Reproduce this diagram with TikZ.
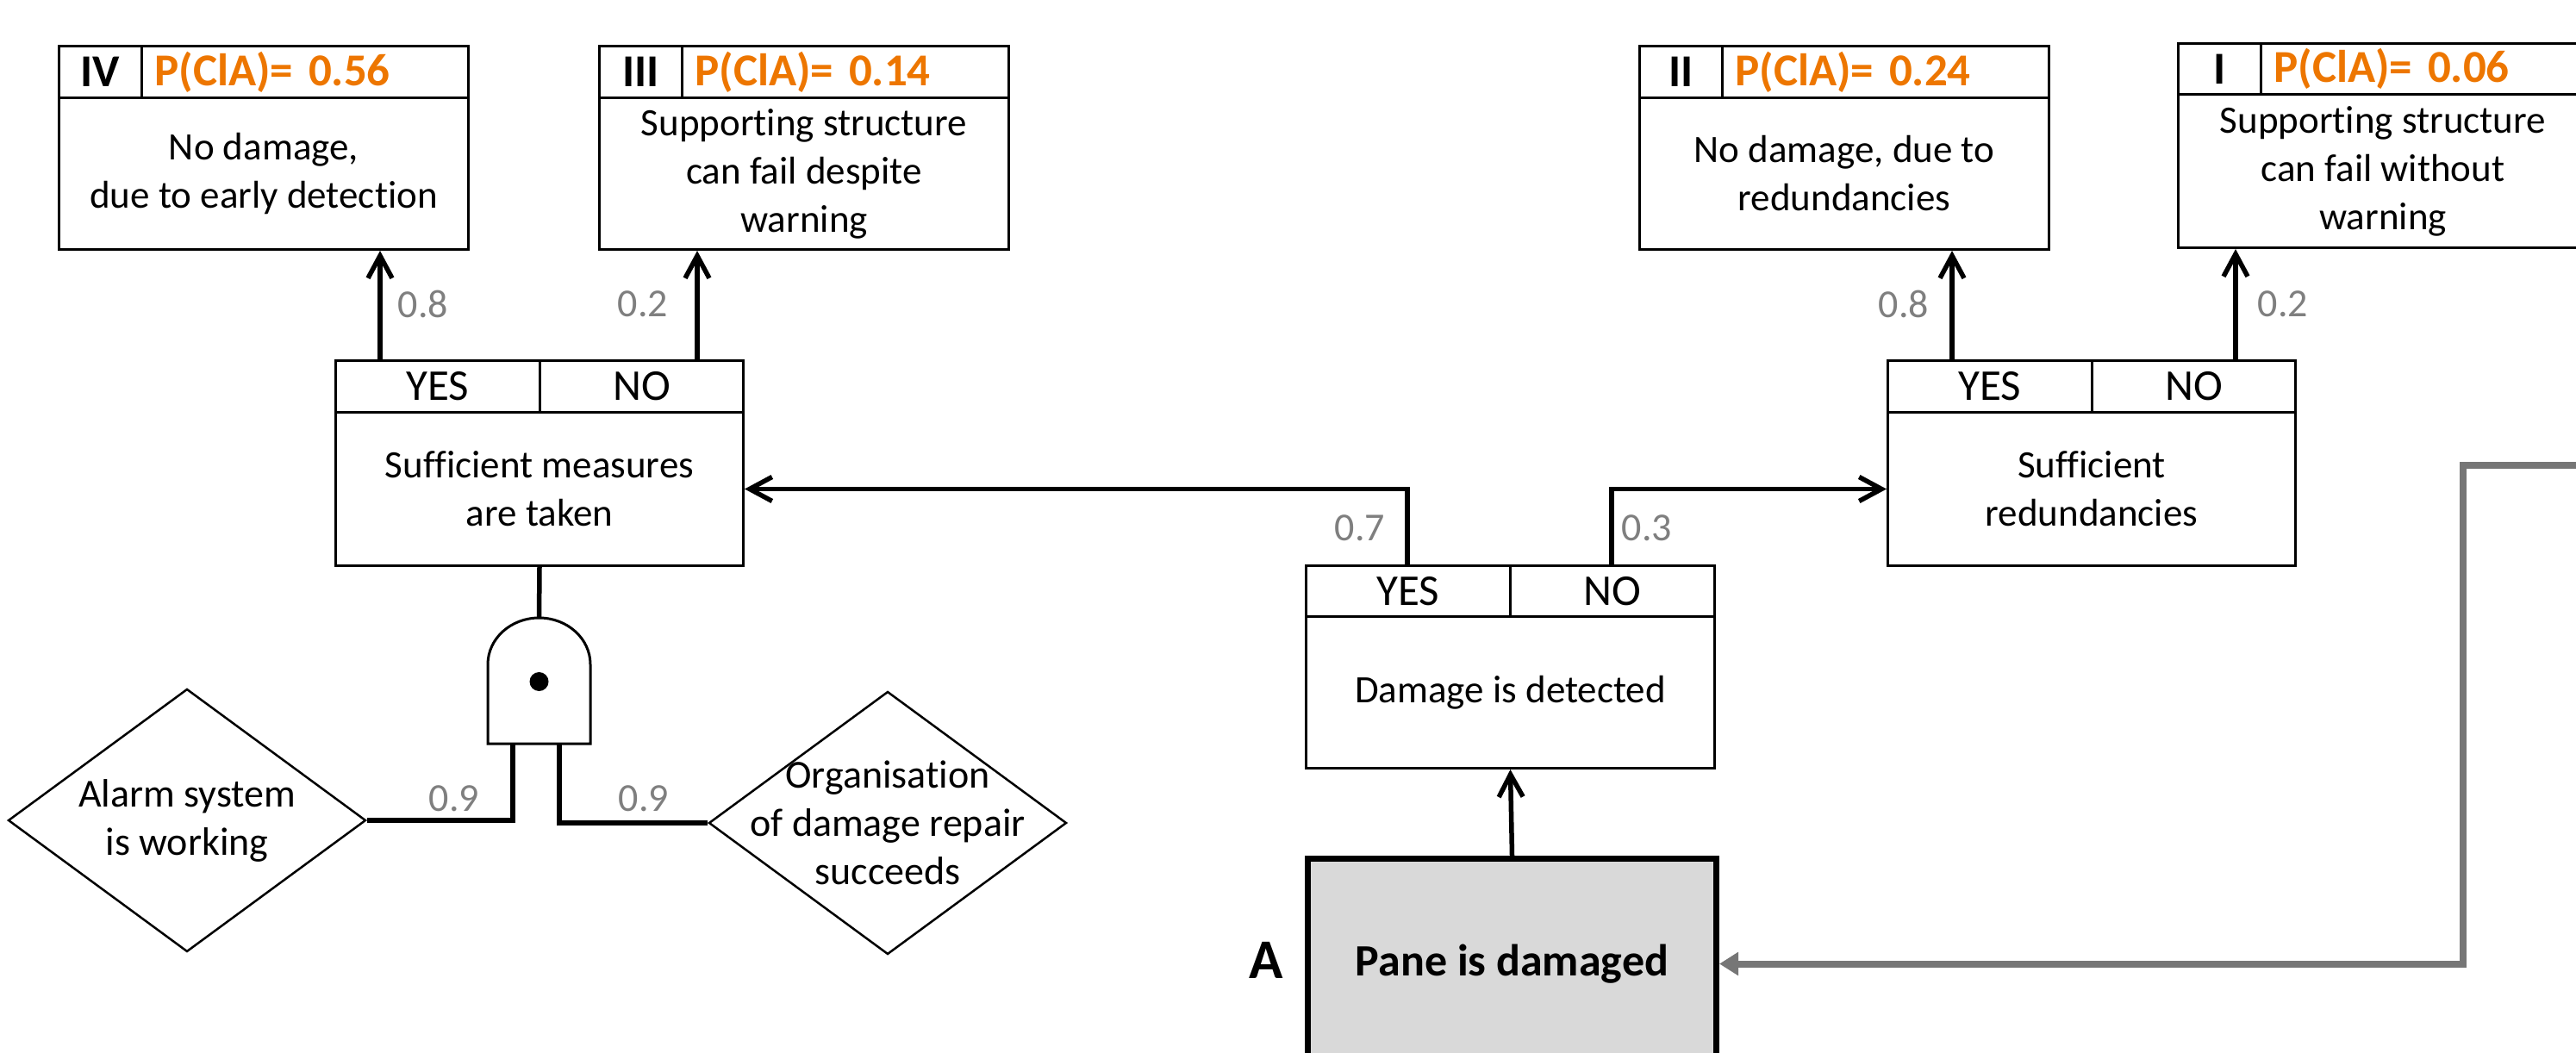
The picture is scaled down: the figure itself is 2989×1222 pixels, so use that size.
\documentclass[tikz,border=0pt]{standalone}
\usepackage{fontspec}
\setmainfont{Carlito}[Ligatures=NoCommon]
\usetikzlibrary{arrows.meta,shapes.geometric}
\definecolor{orangeP}{RGB}{237,118,0}
\definecolor{greyL}{RGB}{118,118,118}
\definecolor{greyT}{RGB}{127,127,127}
\definecolor{paneFill}{RGB}{217,217,217}
\newcommand\fbody{\fontsize{45}{56}\selectfont}
\newcommand\fhead{\fontsize{53}{58}\selectfont\bfseries}
\newcommand\fyn{\fontsize{51}{56}\selectfont}
\newcommand\fnum{\fontsize{46}{56}\selectfont}
\newcommand\fdia{\fontsize{46}{56}\selectfont}
\tikzset{
  cell/.style={draw, line width=3pt, inner sep=0pt, align=center, anchor=north west},
  numcell/.style={cell, minimum width=96, font=\fhead},
  probcell/.style={cell, text width=#1, align=left, inner xsep=15pt, text=orangeP, font=\fhead},
  yncell/.style={cell, font=\fyn},
  bodycell/.style={cell, font=\fbody},
  conn/.style={line width=5.5pt},
  arr/.style={conn, -{Straight Barb[length=26pt,width=28pt]}},
  prob/.style={text=greyT, font=\fnum, inner sep=0pt},
  dia/.style={draw, diamond, line width=2.5pt, inner sep=0pt, minimum width=415, minimum height=305},
  dialabel/.style={font=\fdia, align=center},
  gate/.style={line width=3pt},
  greyarr/.style={draw=greyL, line width=8pt, -{Triangle[length=22pt,width=26pt]}},
}
\begin{document}
\begin{tikzpicture}[x=1pt,y=-1pt]
\useasboundingbox (0,0) rectangle (2989,1222);
\clip (0,0) rectangle (2989,1222);
% outcome IV
\node[numcell, minimum height=60] (IVn) at (67,52) {IV};
\node[probcell=349, minimum height=60] (IVp) at (163,52) {P(ClA)= 0.56};
\node[bodycell, minimum width=475, minimum height=176] (IVb) at (67,112) {No damage,\\due to early detection};
% outcome III
\node[numcell, minimum height=60] (IIIn) at (694,52) {III};
\node[probcell=349, minimum height=60] (IIIp) at (790,52) {P(ClA)= 0.14};
\node[bodycell, minimum width=475, minimum height=176] (IIIb) at (694,112) {Supporting structure\\can fail despite\\warning};
% outcome II
\node[numcell, minimum height=60] (IIn) at (1901,52) {II};
\node[probcell=349, minimum height=60] (IIp) at (1997,52) {P(ClA)= 0.24};
\node[bodycell, minimum width=475, minimum height=176] (IIb) at (1901,112) {No damage, due to\\redundancies};
% outcome I
\node[numcell, minimum height=59] (In) at (2526,49) {I};
\node[probcell=349, minimum height=59] (Ip) at (2622,49) {P(ClA)= 0.06};
\node[bodycell, minimum width=475, minimum height=178] (Ib) at (2526,108) {Supporting structure\\can fail without\\warning};
% decision: sufficient measures
\node[yncell, minimum width=237, minimum height=60] (SMy) at (388,417) {YES};
\node[yncell, minimum width=236, minimum height=60] (SMn) at (625,417) {NO};
\node[bodycell, minimum width=473, minimum height=178] (SMb) at (388,477) {Sufficient measures\\are taken};
% decision: sufficient redundancies
\node[yncell, minimum width=237, minimum height=60] (SRy) at (2189,417) {YES};
\node[yncell, minimum width=236, minimum height=60] (SRn) at (2426,417) {NO};
\node[bodycell, minimum width=473, minimum height=178] (SRb) at (2189,477) {Sufficient\\redundancies};
% decision: damage detected
\node[yncell, minimum width=237, minimum height=59] (DDy) at (1514,655) {YES};
\node[yncell, minimum width=237, minimum height=59] (DDn) at (1751,655) {NO};
\node[bodycell, minimum width=474, minimum height=176] (DDb) at (1514,714) {Damage is detected};
% initiating event
\node[cell, line width=7pt, fill=paneFill, minimum width=474, minimum height=244, font=\fontsize{52}{56}\selectfont\bfseries] (P) at (1514,993) {Pane is damaged};
\node[font=\fontsize{65}{70}\selectfont\bfseries, inner sep=0pt] (Alab) at (1469,1114) {A};
% diamonds
\node[dia, label={[dialabel]center:Alarm system\\is working}] (d1) at (217,952) {};
\node[dia, label={[dialabel]center:Organisation\\of damage repair\\succeeds}] (d2) at (1030,955) {};
% connectors
\coordinate (sm1) at (441,417);
\coordinate (sm2) at (809,417);
\coordinate (sr1) at (2265,417);
\coordinate (sr2) at (2594,417);
\coordinate (dd1) at (1633,655);
\coordinate (dd2) at (1870,655);
\draw[arr] (sm1) -- (sm1 |- IVb.south);
\draw[arr] (sm2) -- (sm2 |- IIIb.south);
\draw[arr] (sr1) -- (sr1 |- IIb.south);
\draw[arr] (sr2) -- (sr2 |- Ib.south);
\draw[arr] (dd1) |- (SMb.east);
\draw[arr] (dd2) |- (SRb.west);
\draw[arr] (P.north) -- (DDb.south);
% AND gate
\coordinate (gtop) at (625.5,717);
\draw[conn] (SMb.south) -- (gtop);
\draw[gate, fill=white] (566,863) -- (566,771) .. controls (566,741.2) and (592.6,717) .. (gtop) .. controls (658.4,717) and (685,741.2) .. (685,771) -- (685,863) -- cycle;
\fill (625.5,791) circle[radius=11pt];
\coordinate (gl) at (595,863);
\coordinate (gr) at (649,863);
\draw[conn] (gl) |- (d1.east);
\draw[conn] (gr) |- (d2.west);
% probabilities
\node[prob] (p1) at (491,353) {0.8};
\node[prob] (p2) at (746,353) {0.2};
\node[prob] (p3) at (2209,353) {0.8};
\node[prob] (p4) at (2649,353) {0.2};
\node[prob] (p5) at (1578,613) {0.7};
\node[prob] (p6) at (1911,613) {0.3};
\node[prob] (p7) at (527,927) {0.9};
\node[prob] (p8) at (747,927) {0.9};
% feedback line
\coordinate (g0) at (3010,540);
\coordinate (g1) at (2858,540);
\draw[greyarr] (g0) -- (g1) |- (P.east);
\end{tikzpicture}
\end{document}
